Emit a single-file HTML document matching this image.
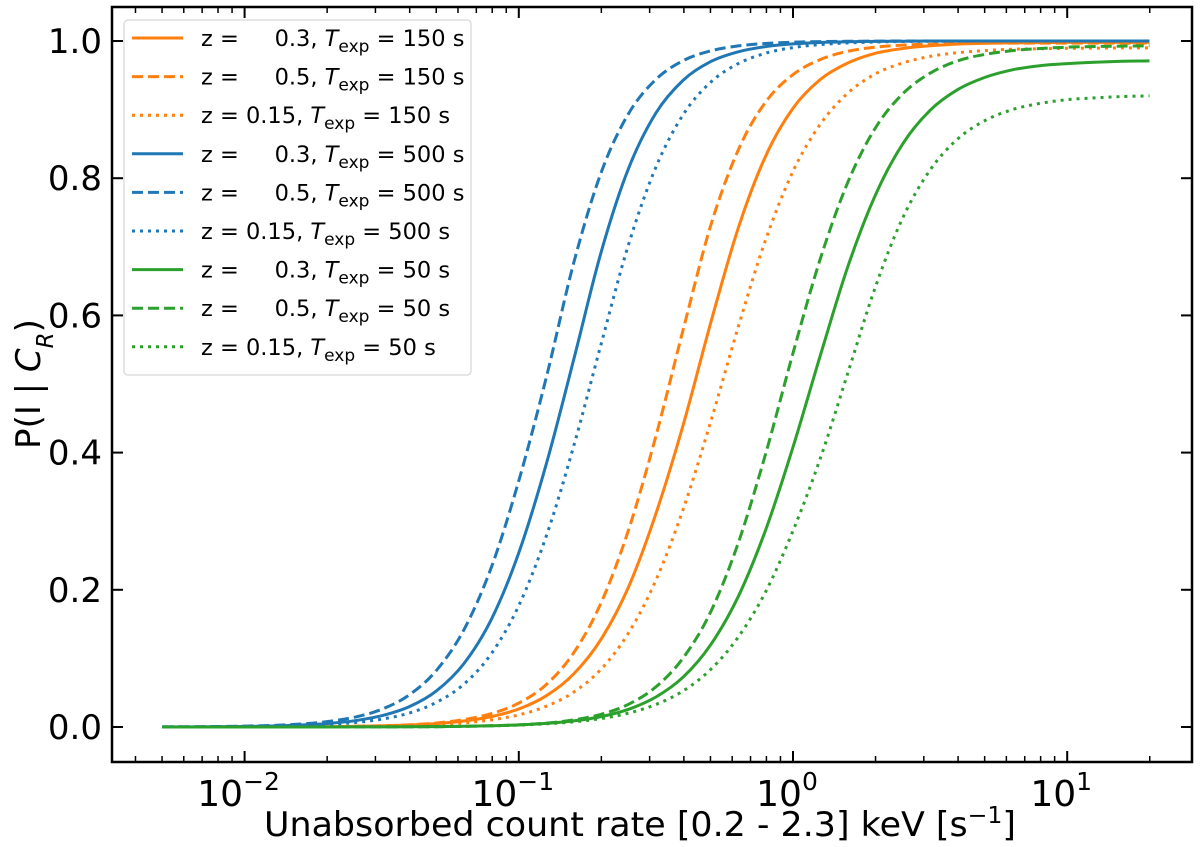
<!DOCTYPE html>
<html><head><meta charset="utf-8"><style>
body{margin:0;background:#fff;}
svg{display:block;font-family:"DejaVu Sans","Liberation Sans",sans-serif;}
</style></head><body>
<svg id="chart" width="1200" height="847" viewBox="0 0 1200 847" xmlns="http://www.w3.org/2000/svg">
<g id="plot"></g>
<rect x="112" y="7" width="1080" height="755" fill="none" stroke="#000" stroke-width="2.5"/>
<g id="axes"></g>
<text x="640" y="836" font-size="34" text-anchor="middle" textLength="752" lengthAdjust="spacingAndGlyphs">Unabsorbed count rate [0.2 - 2.3] keV [s<tspan baseline-shift="super" font-size="23">−1</tspan>]</text>
<text transform="translate(40,384) rotate(-90)" font-size="34" text-anchor="middle">P(I | <tspan font-style="italic">C</tspan><tspan font-style="italic" font-size="23" baseline-shift="sub">R</tspan>)</text>
<g id="legend"></g>
</svg>
<script>
const logRate = [-2.3,-2.2,-2.1,-2.0,-1.9,-1.8,-1.7,-1.6,-1.5,-1.4,-1.3,-1.2,-1.1,-1.0,-0.9,-0.8,-0.7,-0.6,-0.5,-0.4,-0.3,-0.2,-0.1,0.0,0.1,0.2,0.3,0.4,0.5,0.6,0.7,0.8,0.9,1.0,1.1,1.2,1.3];
const orange03 = [0,0,0.0001,0.0001,0.0002,0.0003,0.0005,0.0009,0.0016,0.0029,0.005,0.0088,0.0152,0.0263,0.0455,0.0772,0.128,0.204,0.311,0.441,0.589,0.727,0.832,0.902,0.944,0.968,0.982,0.989,0.993,0.9955,0.9967,0.9973,0.9976,0.998,0.998,0.998,0.998];
const orange05 = [0,0,0,0.0001,0.0002,0.0003,0.0005,0.001,0.0018,0.0032,0.0059,0.0108,0.0195,0.0349,0.0618,0.108,0.181,0.287,0.424,0.58,0.731,0.841,0.911,0.951,0.973,0.985,0.991,0.994,0.9954,0.9962,0.997,0.997,0.997,0.997,0.997,0.997,0.997];
const orange015 = [0,0,0,0.0001,0.0001,0.0002,0.0004,0.0007,0.0012,0.0021,0.0035,0.0061,0.0104,0.0177,0.0302,0.0507,0.0843,0.137,0.214,0.318,0.445,0.583,0.71,0.81,0.879,0.924,0.952,0.968,0.9775,0.983,0.986,0.988,0.9887,0.9893,0.9896,0.99,0.99];
const blue03 = [0.0001,0.0002,0.0005,0.0008,0.0015,0.0027,0.005,0.0091,0.0165,0.0296,0.0527,0.0926,0.157,0.254,0.383,0.535,0.692,0.814,0.895,0.943,0.97,0.9843,0.9919,0.9958,0.9978,0.9989,0.9994,0.9997,1,1,1,1,1,1,1,1,1];
const blue05 = [0.0002,0.0004,0.0007,0.0013,0.0023,0.0042,0.0078,0.0142,0.0258,0.0466,0.0826,0.142,0.233,0.359,0.509,0.676,0.808,0.894,0.944,0.9715,0.9856,0.9928,0.9964,0.9982,0.9991,0.9996,0.9998,1,1,1,1,1,1,1,1,1,1];
const blue015 = [0.0001,0.0002,0.0003,0.0006,0.0011,0.002,0.0036,0.0064,0.0114,0.0203,0.036,0.0625,0.107,0.177,0.278,0.409,0.558,0.703,0.816,0.893,0.94,0.967,0.9822,0.9904,0.9948,0.9972,0.9985,0.9992,0.9996,0.9998,1,1,1,1,1,1,1];
const green03 = [0,0,0,0,0,0,0,0.0001,0.0002,0.0003,0.0006,0.001,0.0018,0.003,0.0052,0.0089,0.0151,0.0258,0.0438,0.073,0.12,0.19,0.287,0.408,0.542,0.671,0.775,0.85,0.899,0.929,0.947,0.958,0.964,0.967,0.969,0.9705,0.971];
const green05 = [0,0,0,0,0,0,0,0.0001,0.0002,0.0003,0.0005,0.001,0.0017,0.0031,0.0057,0.0103,0.0185,0.0331,0.0584,0.101,0.168,0.268,0.398,0.545,0.683,0.794,0.873,0.923,0.953,0.971,0.9805,0.986,0.989,0.991,0.992,0.9925,0.993];
const green015 = [0,0,0,0,0,0,0.0001,0.0001,0.0002,0.0004,0.0006,0.001,0.0017,0.0028,0.0046,0.0075,0.0123,0.0202,0.0328,0.0528,0.0839,0.131,0.197,0.286,0.392,0.516,0.641,0.742,0.812,0.857,0.884,0.9,0.909,0.9145,0.917,0.919,0.92];
const yTicks = [0,0.2,0.4,0.6,0.8,1.0];
const yTickLabels = ["0.0","0.2","0.4","0.6","0.8","1.0"];
const xDecades = [-2,-1,0,1];
const legendLabels = [["0.3","150"],["0.5","150"],["0.15","150"],["0.3","500"],["0.5","500"],["0.15","500"],["0.3","50"],["0.5","50"],["0.15","50"]];

const NS="http://www.w3.org/2000/svg";
const X0=112,X1=1192;
function xs(l){return 793+(l)*274.2;}
function ys(v){return 727-v*686;}
const plot=document.getElementById('plot'), axes=document.getElementById('axes'), leg=document.getElementById('legend');
function mk(tag,attrs,parent){const e=document.createElementNS(NS,tag);for(const k in attrs)e.setAttribute(k,attrs[k]);parent.appendChild(e);return e;}
const OR="#ff7f0e",BL="#1f77b4",GR="#2ca02c";
const dashes={solid:"",dash:"11,5",dot:"3,5"};
const series=[[orange03,OR,"solid","orange-z03-t150"],[orange05,OR,"dash","orange-z05-t150"],[orange015,OR,"dot","orange-z015-t150"],
[blue03,BL,"solid","blue-z03-t500"],[blue05,BL,"dash","blue-z05-t500"],[blue015,BL,"dot","blue-z015-t500"],
[green03,GR,"solid","green-z03-t50"],[green05,GR,"dash","green-z05-t50"],[green015,GR,"dot","green-z015-t50"]];
function smoothPath(pts){
  let d='M'+pts[0][0].toFixed(1)+','+pts[0][1].toFixed(1);
  for(let i=0;i<pts.length-1;i++){
    const p0=pts[Math.max(i-1,0)],p1=pts[i],p2=pts[i+1],p3=pts[Math.min(i+2,pts.length-1)];
    let c1y=p1[1]+(p2[1]-p0[1])/6, c2y=p2[1]-(p3[1]-p1[1])/6;
    const lo=Math.min(p1[1],p2[1]),hi=Math.max(p1[1],p2[1]);
    c1y=Math.min(hi,Math.max(lo,c1y)); c2y=Math.min(hi,Math.max(lo,c2y));
    d+='C'+(p1[0]+(p2[0]-p0[0])/6).toFixed(1)+','+c1y.toFixed(1)+' '+(p2[0]-(p3[0]-p1[0])/6).toFixed(1)+','+c2y.toFixed(1)+' '+p2[0].toFixed(1)+','+p2[1].toFixed(1);
  }
  return d;
}
series.forEach(s=>{
  const pts=s[0].map((v,i)=>[xs(logRate[i]),ys(v)]);
  const p=mk('path',{d:smoothPath(pts),fill:'none',stroke:s[1],'stroke-width':3,'stroke-dasharray':dashes[s[2]]},plot);
  
  
});
yTicks.forEach((v,i)=>{
  const y=ys(v);
  mk('line',{x1:X0,x2:X0+11,y1:y,y2:y,stroke:'#000','stroke-width':2},axes);
  mk('line',{x1:X1,x2:X1-11,y1:y,y2:y,stroke:'#000','stroke-width':2},axes);
  const t=mk('text',{x:102,y:y+12,'font-size':34,'text-anchor':'end'},axes);
  t.textContent=yTickLabels[i];
  
  
});
for(let d=-3;d<=1;d++){
  for(let m=1;m<10;m++){
    const x=xs(d+Math.log10(m));
    if(x<X0||x>X1)continue;
    const L=m===1?11:6;
    mk('line',{x1:x,x2:x,y1:762,y2:762-L,stroke:'#000','stroke-width':m===1?2:1.5},axes);
    mk('line',{x1:x,x2:x,y1:7,y2:7+L,stroke:'#000','stroke-width':m===1?2:1.5},axes);
  }
}
xDecades.forEach(d=>{
  const t=mk('text',{x:xs(d)-6,y:806,'font-size':36,'text-anchor':'middle'},axes);
  
  
  t.textContent='10';
  const s=mk('tspan',{'font-size':25,dy:-16},t); s.textContent=d<0?'−'+(-d):String(d);
});
mk('rect',{x:124,y:20,width:347,height:355,rx:4,fill:'#fff',stroke:'#ddd','stroke-width':1.5},leg);
series.forEach((s,i)=>{
  const y=38+i*38.6;
  const g=mk('g',{},leg);
  
  
  mk('line',{x1:132,x2:183,y1:y,y2:y,stroke:s[1],'stroke-width':3,'stroke-dasharray':dashes[s[2]]},g);
  const t=mk('text',{x:201,y:y+8,'font-size':22.5},g);
  const lab=legendLabels[i];
  const nb='\u00a0';
  t.textContent='z'+nb+'='+nb+(lab[0].length===3?nb+nb+nb+nb:'')+lab[0]+','+nb;
  const T=mk('tspan',{'font-style':'italic'},t);T.textContent='T';
  const e=mk('tspan',{'font-size':17,dy:6},t);e.textContent='exp';
  const r=mk('tspan',{dy:-6},t);r.textContent=nb+'='+nb+lab[1]+nb+'s';
});
</script>
</body></html>
